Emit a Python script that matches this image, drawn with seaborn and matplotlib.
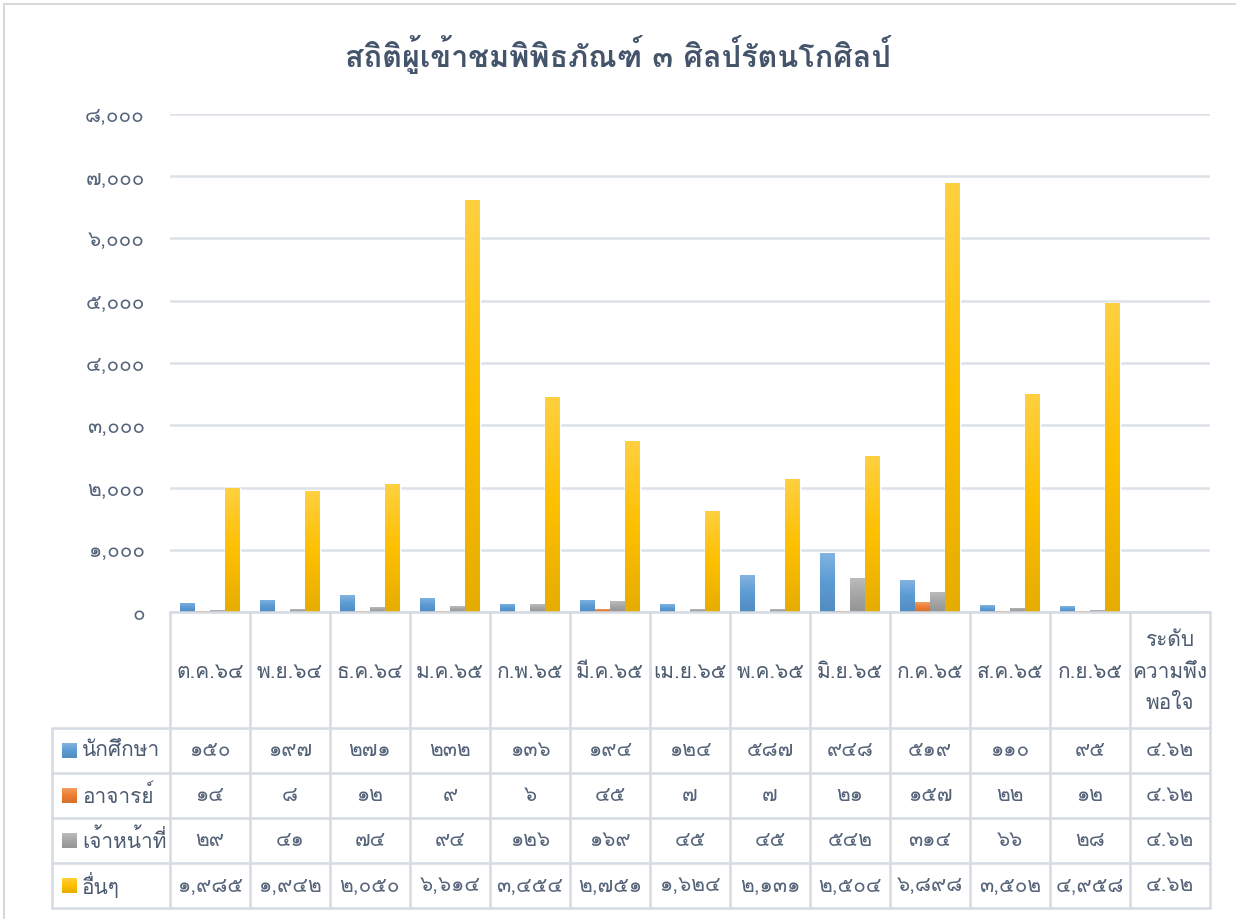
import numpy as np
import pandas as pd
import matplotlib
matplotlib.use("Agg")
import matplotlib.pyplot as plt
import seaborn as sns
from matplotlib import font_manager
from matplotlib.colors import to_rgb
from matplotlib.transforms import blended_transform_factory

# ข้อมูล
months = ['ต.ค.๖๔', 'พ.ย.๖๔', 'ธ.ค.๖๔', 'ม.ค.๖๕', 'ก.พ.๖๕', 'มี.ค.๖๕', 'เม.ย.๖๕',
          'พ.ค.๖๕', 'มิ.ย.๖๕', 'ก.ค.๖๕', 'ส.ค.๖๕', 'ก.ย.๖๕', 'ระดับ\nความพึง\nพอใจ']
groups = ['นักศึกษา', 'อาจารย์', 'เจ้าหน้าที่', 'อื่นๆ']
students = [150, 197, 271, 232, 136, 194, 124, 587, 948, 519, 110, 95, 4.62]
teachers = [14, 8, 12, 9, 6, 45, 7, 7, 21, 157, 22, 12, 4.62]
staff = [29, 41, 74, 94, 126, 169, 45, 45, 542, 314, 66, 28, 4.62]
others = [1985, 1942, 2050, 6614, 3454, 2751, 1624, 2131, 2504, 6898, 3502, 4958, 4.62]
yticks = [0, 1000, 2000, 3000, 4000, 5000, 6000, 7000, 8000]
colors = ['#5B9BD5', '#ED7D31', '#A5A5A5', '#FFC000']

series = [students, teachers, staff, others]
df = pd.DataFrame({
    'เดือน': months * len(groups),
    'กลุ่ม': [g for g in groups for _ in months],
    'จำนวน': [v for s in series for v in s],
})

THAI = str.maketrans('0123456789', '๐๑๒๓๔๕๖๗๘๙')


def thai_num(v):
    if float(v).is_integer():
        return f'{int(v):,}'.translate(THAI)
    return f'{v}'.translate(THAI)


sns.set_style('white')
installed = {f.name for f in font_manager.fontManager.ttflist}
thai_fonts = [f for f in ['Loma', 'Sarabun', 'Noto Sans Thai Looped'] if f in installed]
plt.rcParams['font.family'] = thai_fonts[:1] + ['DejaVu Sans']

W, H = 1236, 919
fig = plt.figure(figsize=(W / 100, H / 100), dpi=100)
left, right, top, bottom = 170, 1210, 114, 612
ax = fig.add_axes([left / W, 1 - bottom / H, (right - left) / W, (bottom - top) / H])

text_c = '#4D5B70'
num_c = '#56647A'
grid_c = '#DDE2E8'
line_c = '#D5DBE3'

sns.barplot(data=df, x='เดือน', y='จำนวน', hue='กลุ่ม', palette=colors, width=0.75,
            saturation=1, ax=ax, legend=False, zorder=3)


def gradient(ax, x0, y0, w, h, color, clip=None, transform=None):
    # ไล่สีแบบ Excel: ล่างเข้ม กลางสีหลัก บนอ่อน
    base = np.array(to_rgb(color))
    topc = base + (1 - base) * 0.25
    botc = base * 0.9
    t = np.linspace(0, 1, 80)[:, None]
    cols = np.where(t < 0.5, botc + (base - botc) * (t / 0.5),
                    base + (topc - base) * ((t - 0.5) / 0.5))
    im = ax.imshow(cols[:, None, :], extent=(x0, x0 + w, y0, y0 + h), origin='lower',
                   aspect='auto', interpolation='bilinear', zorder=4,
                   transform=transform if transform is not None else ax.transData)
    if clip is not None:
        im.set_clip_path(clip)
    else:
        im.set_clip_on(False)


for p in list(ax.patches):
    if p.get_height() > 0:
        gradient(ax, p.get_x(), p.get_y(), p.get_width(), p.get_height(), p.get_facecolor(), clip=p)

ax.set_xlim(-0.5, len(months) - 0.5)
ax.set_ylim(0, 8000)
ax.set_yticks(yticks)
ax.set_yticklabels([thai_num(v) for v in yticks], fontsize=15, color=num_c)
ax.tick_params(axis='y', length=0, pad=18)
ax.set_xticks([])
ax.set_xlabel('')
ax.set_ylabel('')
for s in ax.spines.values():
    s.set_visible(False)
ax.grid(axis='y', color=grid_c, lw=1.8, zorder=0)
ax.set_axisbelow(True)

# ตารางข้อมูลด้านล่าง
fx = lambda px: px / W
fy = lambda py: 1 - py / H
bt = blended_transform_factory(ax.transData, fig.transFigure)
row_edges = [612, 728, 773, 818, 863, 908]

fig.add_artist(plt.Line2D([fx(left), fx(right)], [fy(612), fy(612)], color=line_c, lw=1.8))
for ry in row_edges[1:]:
    fig.add_artist(plt.Line2D([fx(52), fx(right)], [fy(ry), fy(ry)], color=line_c, lw=1.8))
for i in range(len(months) + 1):
    xx = fx(left + (right - left) * i / len(months))
    fig.add_artist(plt.Line2D([xx, xx], [fy(612), fy(908)], color=line_c, lw=1.8))
fig.add_artist(plt.Line2D([fx(52), fx(52)], [fy(728), fy(908)], color=line_c, lw=1.8))

for i, m in enumerate(months):
    ax.text(i, fy(672), m, transform=bt, ha='center', va='center', fontsize=15,
            color=text_c, linespacing=1.85)

for r, (g, vals, c) in enumerate(zip(groups, series, colors)):
    cy = (row_edges[r + 1] + row_edges[r + 2]) / 2
    gradient(ax, fx(62), fy(cy + 7.5), fx(15), fy(0) - fy(15), c, transform=fig.transFigure)
    fig.text(fx(82), fy(cy), g, ha='left', va='center', fontsize=15, color=text_c)
    for i, v in enumerate(vals):
        ax.text(i, fy(cy), thai_num(v), transform=bt, ha='center', va='center',
                fontsize=15, color=num_c)

ax.set_xlim(-0.5, len(months) - 0.5)
ax.set_ylim(0, 8000)

fig.suptitle('สถิติผู้เข้าชมพิพิธภัณฑ์ ๓ ศิลป์รัตนโกศิลป์', y=fy(55), va='center',
             fontsize=22, fontweight='bold', color='#44546A')

# กรอบแผนภูมิ
fig.add_artist(plt.Line2D([fx(4), fx(4)], [0, fy(4)], color='#D9D9D9', lw=1.5))
fig.add_artist(plt.Line2D([fx(4), 1], [fy(4), fy(4)], color='#D9D9D9', lw=1.5))

fig.savefig('out.png', dpi=100)
